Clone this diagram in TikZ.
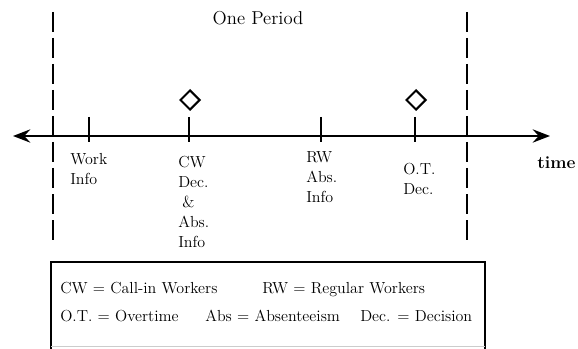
\documentclass[tikz,border=0pt]{standalone}
\usetikzlibrary{arrows.meta,shapes.geometric}
\newcommand{\labstack}[1]{\begin{tabular}[t]{@{}l@{}}#1\end{tabular}}
\begin{document}
\begin{tikzpicture}[x=0.75pt,y=-0.75pt,
  lbl/.style={font=\fontsize{12}{15}\selectfont, inner sep=0pt, anchor=base west},
  ttl/.style={font=\fontsize{14}{17}\selectfont, inner sep=0pt, anchor=base},
  axisline/.style={line width=1.5pt, {Stealth[length=13pt,width=10pt,inset=4.5pt]}-{Stealth[length=13pt,width=10pt,inset=4.5pt]}},
  tickline/.style={line width=1.5pt},
  periodline/.style={line width=1.4pt, dash pattern=on 15pt off 4.5pt},
  dmd/.style={draw, diamond, line width=1.5pt, inner sep=0pt, minimum width=15pt, minimum height=15pt},
  boxline/.style={line width=1pt}
]
\useasboundingbox (0,0) rectangle (578,349);
% period boundaries
\coordinate (d1t) at (53,12); \coordinate (d1b) at (53,240);
\coordinate (d2t) at (467,12); \coordinate (d2b) at (467,240);
\draw[periodline] (d1t) -- (d1b);
\draw[periodline] (d2t) -- (d2b);
% axis
\coordinate (AL) at (13,136); \coordinate (AR) at (550,136);
\draw[axisline] (AL) -- (AR);
% ticks
\coordinate (t1) at (89,136); \coordinate (t2) at (189,136);
\coordinate (t3) at (321,136); \coordinate (t4) at (415,136);
\foreach \t in {t1,t2,t3,t4}{\draw[tickline] (\t) ++(0,-19) -- ++(0,25);}
% diamonds
\node[dmd] (dm1) at (190,100) {};
\node[dmd] (dm2) at (416,100) {};
% title
\node[ttl] (title) at (258,25) {One Period};
% labels
\node[lbl] (lwork) at (70,165) {\labstack{Work\\Info}};
\node[lbl] (lcw) at (178,167) {\labstack{CW\\Dec.\\\hspace{3pt}\&\\Abs.\\Info}};
\node[lbl] (lrw) at (306,163) {\labstack{RW\\Abs.\\Info}};
\node[lbl] (lot) at (403,175) {\labstack{O.T.\\Dec.}};
\node[lbl, font=\fontsize{13}{15}\selectfont\bfseries] (ltime) at (537,169) {time};
% legend box
\coordinate (b1) at (51,352); \coordinate (b2) at (51,262);
\coordinate (b3) at (485,262); \coordinate (b4) at (485,352);
\draw[boxline] (b1) -- (b2) -- (b3) -- (b4);
\coordinate (g1) at (51,346); \coordinate (g2) at (485,346);
\draw[gray!40, line width=0.6pt] (g1) -- (g2);
\node[lbl] (k1) at (60,293) {CW = Call-in Workers};
\node[lbl] (k2) at (262,293) {RW = Regular Workers};
\node[lbl] (k3) at (60,321) {O.T. = Overtime};
\node[lbl] (k4) at (205,321) {Abs = Absenteeism};
\node[lbl] (k5) at (360,321) {Dec. = Decision};
\end{tikzpicture}
\end{document}
